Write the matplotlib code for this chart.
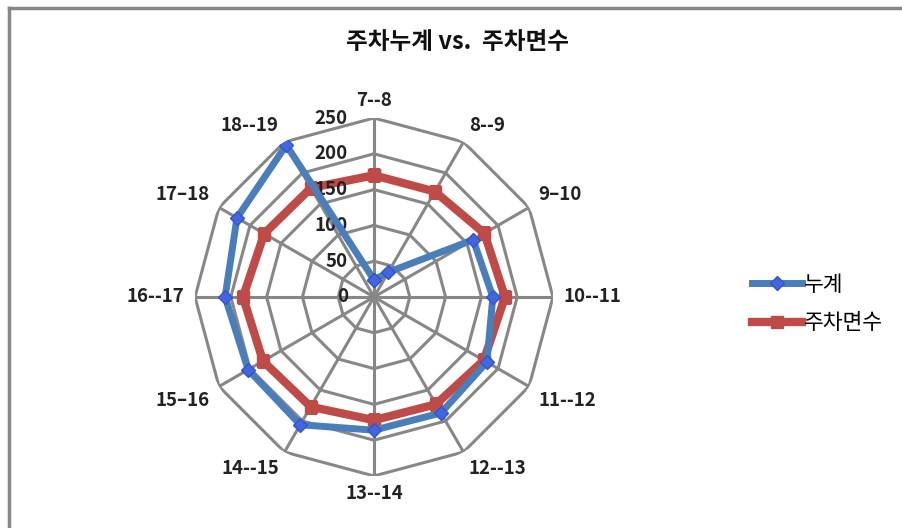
import matplotlib
matplotlib.use("Agg")
import matplotlib.pyplot as plt
import numpy as np
from matplotlib.lines import Line2D

plt.rcParams["font.family"] = ["Noto Sans CJK KR", "DejaVu Sans"]

# 시간대별 주차 누계 / 주차면수
categorias = ["7--8", "8--9", "9\u201310", "10--11", "11--12", "12--13",
              "13--14", "14--15", "15\u201316", "16--17", "17\u201318", "18--19"]
누계 = [24, 40, 160, 166, 182, 187, 186, 206, 203, 208, 221, 245]
주차면수 = [170, 170, 178, 183, 177, 173, 172, 177, 179, 183, 177, 176]
눈금 = [0, 50, 100, 150, 200, 250]

AZUL = "#4a7ebb"
VERMELHO = "#be4b48"
CINZA = "#878787"

W, H = 903, 528
fig = plt.figure(figsize=(W / 100, H / 100), dpi=100)
fig.patch.set_facecolor("white")

# moldura (so esquerda e topo visiveis)
fig.add_artist(Line2D([9 / W, 9 / W], [0, 1 - 8 / H], color=CINZA, lw=2.5, transform=fig.transFigure))
fig.add_artist(Line2D([9 / W, 1], [1 - 8 / H, 1 - 8 / H], color=CINZA, lw=2.5, transform=fig.transFigure))

cx, cy, R = 374, 297, 179
ax = fig.add_axes([(cx - R) / W, (H - cy - R) / H, 2 * R / W, 2 * R / H], projection="polar")
ax.set_theta_zero_location("N")
ax.set_theta_direction(-1)
ax.set_ylim(0, 250)
ax.grid(False)
ax.set_xticks([])
ax.set_yticks([])
ax.spines["polar"].set_visible(False)
ax.patch.set_alpha(0)

n = len(categorias)
ang = np.arange(n) * 2 * np.pi / n
ang_f = np.append(ang, ang[0])

# grade poligonal estilo Excel
for v in 눈금[1:]:
    ax.plot(ang_f, [v] * (n + 1), color=CINZA, lw=2.2, zorder=1)
for a in ang:
    ax.plot([a, a], [0, 눈금[-1]], color=CINZA, lw=2.2, zorder=1)

ax.plot(ang_f, 주차면수 + 주차면수[:1], color=VERMELHO, lw=6, marker="s", ms=9,
        label="주차면수", zorder=3)
ax.plot(ang_f, 누계 + 누계[:1], color=AZUL, lw=5, marker="D", ms=7,
        markeredgecolor="#3355cc", markerfacecolor="#4466dd", label="누계", zorder=4)

for v in 눈금:
    ax.annotate(str(v), xy=(0, v), xytext=(-26, 0), textcoords="offset pixels",
                ha="right", va="center", fontsize=13.5, fontweight="bold", color="#222222")

for a, rot in zip(ang, categorias):
    s, c = np.sin(a), np.cos(a)
    ha = "center" if abs(s) < 0.1 else ("left" if s > 0 else "right")
    va = "center" if abs(c) < 0.1 else ("bottom" if c > 0 else "top")
    ax.annotate(rot, xy=(a, 250), xytext=(11 * s, 8 * c), textcoords="offset pixels",
                ha=ha, va=va, fontsize=13.5, fontweight="bold", color="#222222")

fig.text(458 / W, 1 - 42 / H, "주차누계 vs.  주차면수", ha="center", va="center",
         fontsize=17, fontweight="bold", color="#111111")

h = [Line2D([], [], color=AZUL, lw=5, marker="D", ms=7, markerfacecolor="#4466dd",
            markeredgecolor="#3355cc"),
     Line2D([], [], color=VERMELHO, lw=6, marker="s", ms=9)]
fig.legend(h, ["누계", "주차면수"], loc="center left", bbox_to_anchor=(733 / W, 1 - 304 / H),
           frameon=False, fontsize=15.5, handlelength=2.3, handletextpad=0.1, labelspacing=0.75)

fig.savefig("out.png", dpi=100)
